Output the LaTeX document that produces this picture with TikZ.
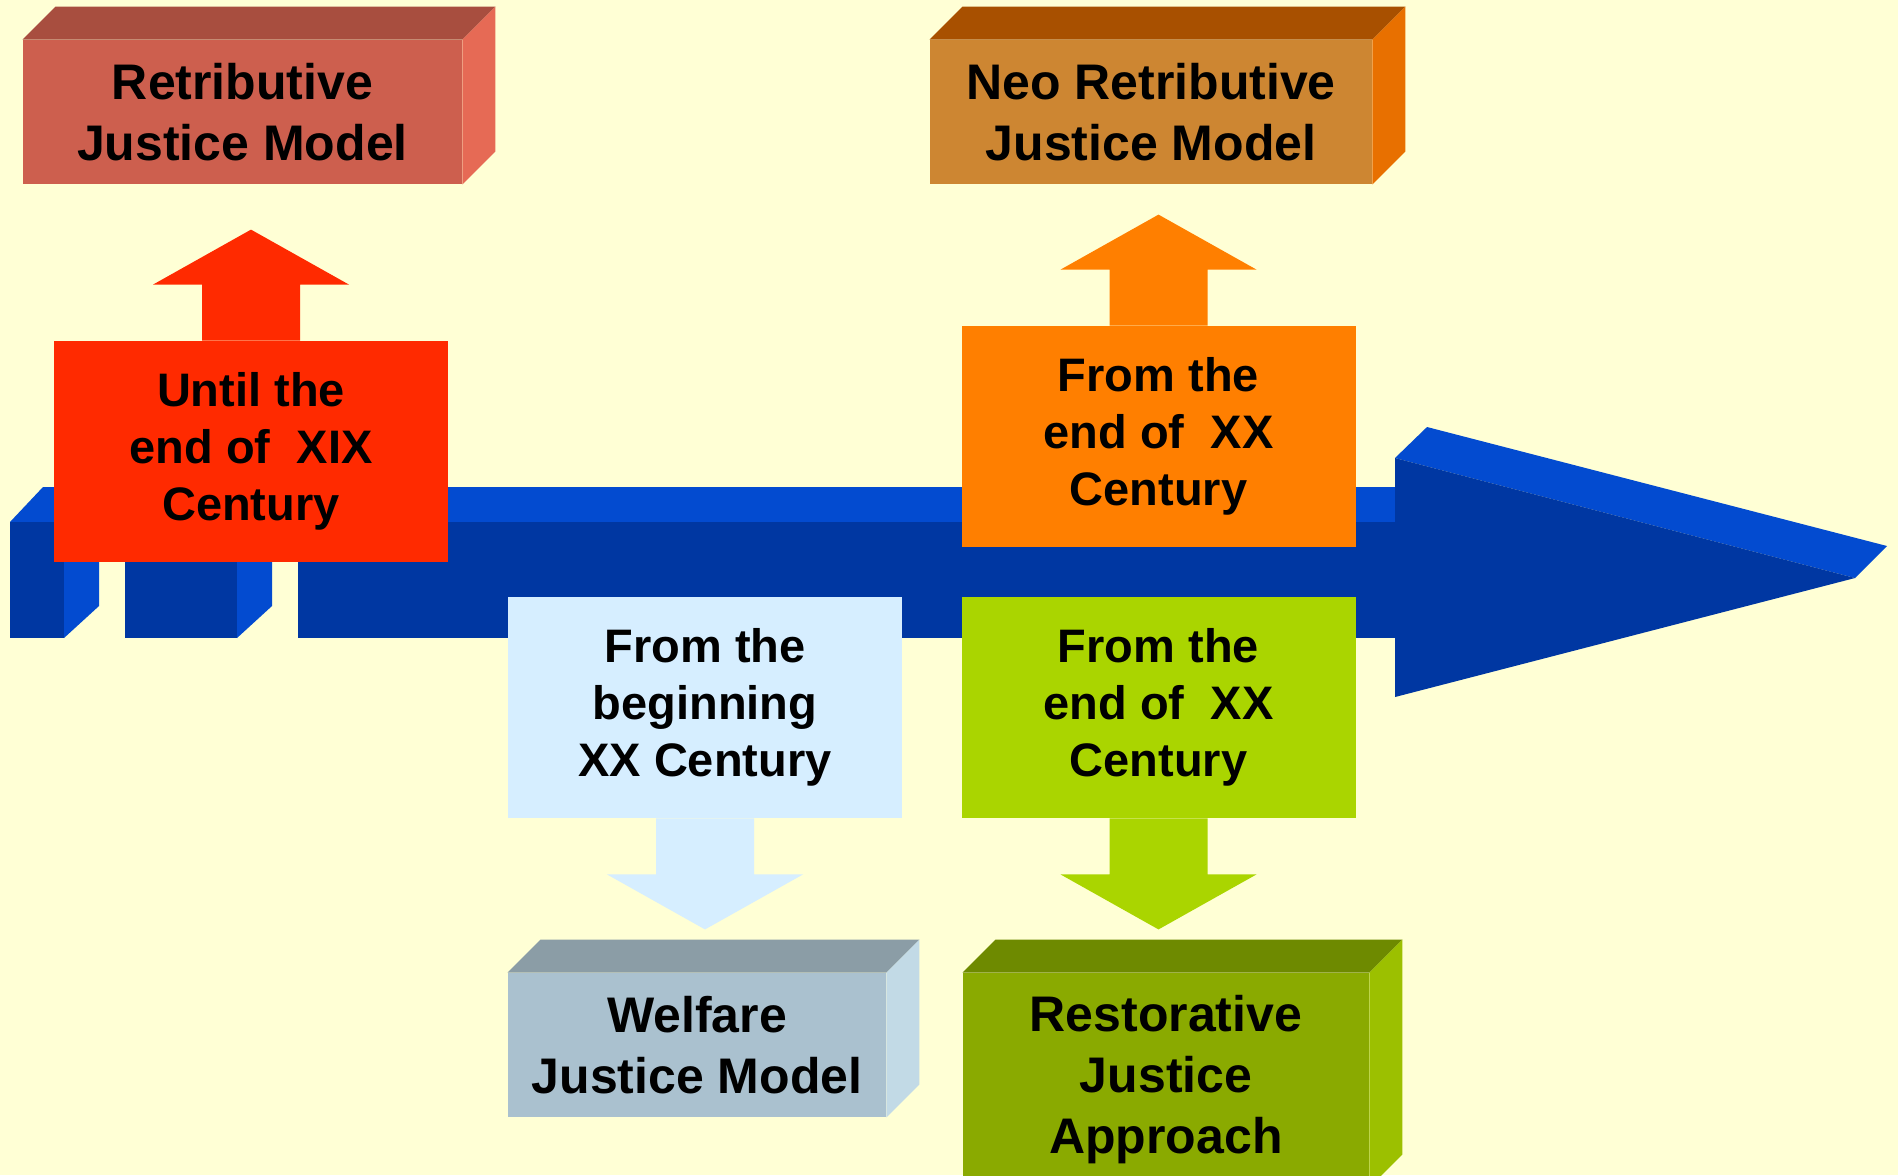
\documentclass[tikz,border=0pt]{standalone}
\usepackage{fontspec}
\setmainfont{Liberation Sans}
\usepackage{tikz}
\definecolor{paper}{HTML}{FFFFD5}
\definecolor{bluefront}{HTML}{0037A2}
\definecolor{bluetop}{HTML}{034BD0}
\definecolor{retribfront}{HTML}{CD5F4E}
\definecolor{retribtop}{HTML}{A84E3F}
\definecolor{retribside}{HTML}{E66A55}
\definecolor{neofront}{HTML}{CD8632}
\definecolor{neotop}{HTML}{A85000}
\definecolor{neoside}{HTML}{E87000}
\definecolor{welfront}{HTML}{AAC1CF}
\definecolor{weltop}{HTML}{8B9DA6}
\definecolor{welside}{HTML}{C2DAE6}
\definecolor{restfront}{HTML}{8AAA00}
\definecolor{resttop}{HTML}{6E8A00}
\definecolor{restside}{HTML}{9CC000}
\definecolor{xixred}{HTML}{FF2A00}
\definecolor{xxorange}{HTML}{FF7F00}
\definecolor{xxlight}{HTML}{D6EEFF}
\definecolor{xxgreen}{HTML}{AAD500}
\tikzset{
    every node/.style={align=center,},
    model/.style={rectangle,inner sep=0pt,minimum height=72pt,font=\fontsize{25}{30.5}\selectfont\bfseries,},
    period/.style={rectangle,inner sep=0pt,minimum width=197pt,minimum height=110.5pt,font=\fontsize{23.5}{28.5}\selectfont\bfseries,},
}
% top and right faces of a box node
\newcommand\cuboid[3]{%
    \fill[#2] (#1.north west) -- ([shift={(33,-33)}]#1.north west) -- ([shift={(33,-33)}]#1.north east) -- (#1.north east) -- cycle;
    \fill[#3] (#1.north east) -- ([shift={(33,-33)}]#1.north east) -- ([shift={(33,-33)}]#1.south east) -- (#1.south east) -- cycle;}
% block arrow leaving a node, #2 = -1 up, 1 down
\newcommand\blockarrow[3]{%
    \fill[#3] ([xshift=-24.5pt]#1) -- ++(0,#2*56) -- ++(-49,0) -- ++(98,#2*55) -- ++(98,-#2*55) -- ++(-49,0) -- ++(0,-#2*56) -- cycle;}

\begin{document}
\begin{tikzpicture}[x=0.5pt,y=-0.5pt]
    \useasboundingbox (0,0) rectangle (1898,1175);
    \clip (0,0) rectangle (1898,1175);
    \fill[paper] (0,0) rectangle (1898,1175);

    % time line
    \fill[bluetop] (10,522) -- (43,487) -- (1395,487) -- (1395,522) -- cycle;
    \fill[bluefront] (10,522) rectangle (64,638);
    \fill[bluetop] (64,522) -- (99,487) -- (99,606) -- (64,638) -- cycle;
    \fill[bluefront] (125,522) rectangle (237,638);
    \fill[bluetop] (237,522) -- (272,487) -- (272,606) -- (237,638) -- cycle;
    \fill[bluefront] (298,522) rectangle (1396,638);
    \fill[bluetop] (1395,458) -- (1427,427) -- (1887,546) -- (1855,578) -- cycle;
    \fill[bluefront] (1395,458) -- (1855,578) -- (1395,697) -- cycle;

    \node[model,fill=retribfront,minimum width=219.5pt] (retrib) at (242.5,112) {Retributive\\Justice Model};
    \node[model,fill=neofront,minimum width=221pt] (neo) at (1151,112) {Neo Retributive\\Justice Model};
    \node[model,fill=welfront,minimum width=189pt] (welfare) at (697,1045) {Welfare\\Justice Model};
    \node[model,fill=restfront,minimum width=203pt,minimum height=107pt] (restor) at (1166,1080) {Restorative\\Justice\\Approach};
    \cuboid{retrib}{retribtop}{retribside}
    \cuboid{neo}{neotop}{neoside}
    \cuboid{welfare}{weltop}{welside}
    \cuboid{restor}{resttop}{restside}

    \node[period,fill=xixred] (xix) at (251,451.5) {Until the\\end of~ XIX\\Century};
    \node[period,fill=xxorange] (xxend) at (1158.5,436.5) {From the\\end of~ XX\\Century};
    \node[period,fill=xxlight] (xxbegin) at (705,707.5) {From the\\beginning\\XX Century};
    \node[period,fill=xxgreen] (xxrest) at (1158.5,707.5) {From the\\end of~ XX\\Century};

    \blockarrow{xix.north}{-1}{xixred}
    \blockarrow{xxend.north}{-1}{xxorange}
    \blockarrow{xxbegin.south}{1}{xxlight}
    \blockarrow{xxrest.south}{1}{xxgreen}
\end{tikzpicture}
\end{document}
